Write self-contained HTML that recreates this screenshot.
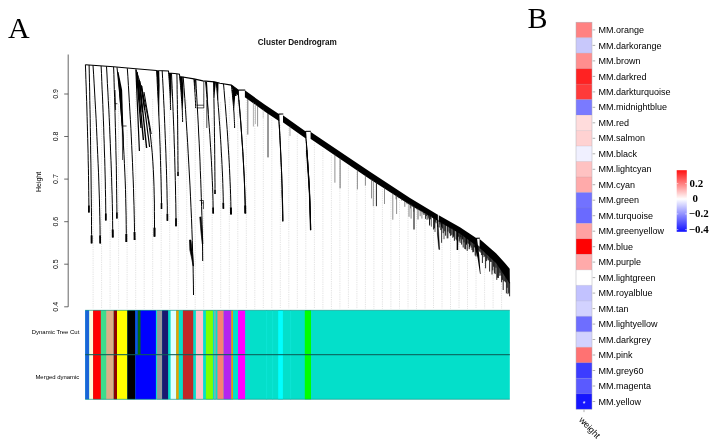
<!DOCTYPE html>
<html lang="en"><head><meta charset="utf-8"><title>Cluster Dendrogram</title>
<style>html,body{margin:0;padding:0;background:#fff}body{width:715px;height:446px;overflow:hidden}</style></head>
<body>
<svg width="715" height="446" viewBox="0 0 715 446" style="display:block">
<rect width="715" height="446" fill="#fff"/>
<text x="7.9" y="38" font-family='"Liberation Serif", "Times New Roman", serif' font-size="30">A</text>
<text x="527.6" y="28.2" font-family='"Liberation Serif", "Times New Roman", serif' font-size="30">B</text>
<text x="297.3" y="45.1" text-anchor="middle" font-family='"Liberation Sans", Arial, Helvetica, sans-serif' font-weight="bold" font-size="8.2" fill="#111">Cluster Dendrogram</text>
<path d="M68.2 54.5V306.8" stroke="#333" stroke-width="0.75" fill="none"/>
<path d="M64.2 94.0H68.2" stroke="#444" stroke-width="0.8"/>
<text transform="translate(58.4 94.0) rotate(-90)" text-anchor="middle" font-family='"Liberation Sans", Arial, Helvetica, sans-serif' font-size="7" fill="#000">0.9</text>
<path d="M64.2 136.5H68.2" stroke="#444" stroke-width="0.8"/>
<text transform="translate(58.4 136.5) rotate(-90)" text-anchor="middle" font-family='"Liberation Sans", Arial, Helvetica, sans-serif' font-size="7" fill="#000">0.8</text>
<path d="M64.2 179.1H68.2" stroke="#444" stroke-width="0.8"/>
<text transform="translate(58.4 179.1) rotate(-90)" text-anchor="middle" font-family='"Liberation Sans", Arial, Helvetica, sans-serif' font-size="7" fill="#000">0.7</text>
<path d="M64.2 221.7H68.2" stroke="#444" stroke-width="0.8"/>
<text transform="translate(58.4 221.7) rotate(-90)" text-anchor="middle" font-family='"Liberation Sans", Arial, Helvetica, sans-serif' font-size="7" fill="#000">0.6</text>
<path d="M64.2 264.2H68.2" stroke="#444" stroke-width="0.8"/>
<text transform="translate(58.4 264.2) rotate(-90)" text-anchor="middle" font-family='"Liberation Sans", Arial, Helvetica, sans-serif' font-size="7" fill="#000">0.5</text>
<path d="M64.2 306.8H68.2" stroke="#444" stroke-width="0.8"/>
<text transform="translate(58.4 306.8) rotate(-90)" text-anchor="middle" font-family='"Liberation Sans", Arial, Helvetica, sans-serif' font-size="7" fill="#000">0.4</text>
<text transform="translate(40.9 182) rotate(-90)" text-anchor="middle" font-family='"Liberation Sans", Arial, Helvetica, sans-serif' font-size="7" fill="#000">Height</text>
<path d="M93.1 96.0V308.6 M101.6 120.0V308.6 M110.1 88.0V308.6 M118.6 104.0V308.6 M127.1 130.0V308.6 M135.7 92.0V308.6 M144.2 110.0V308.6 M152.7 99.0V308.6 M161.2 125.0V308.6 M169.7 90.0V308.6 M178.2 115.0V308.6 M186.7 100.0V308.6 M195.2 108.0V308.6 M203.7 94.0V308.6 M212.2 118.0V308.6 M220.7 102.0V308.6 M229.3 97.0V308.6 M237.8 96.0V308.6 M246.3 100.2V308.6 M254.8 106.4V308.6 M263.3 112.6V308.6 M271.8 118.3V308.6 M280.3 123.4V308.6 M288.8 128.4V308.6 M297.3 134.5V308.6 M305.8 140.3V308.6 M314.4 143.4V308.6 M322.9 149.2V308.6 M331.4 155.0V308.6 M339.9 160.7V308.6 M348.4 166.5V308.6 M356.9 172.3V308.6 M365.4 178.1V308.6 M373.9 183.7V308.6 M382.4 189.2V308.6 M390.9 194.7V308.6 M399.5 200.2V308.6 M408.0 205.7V308.6 M416.5 210.7V308.6 M425.0 215.7V308.6 M433.5 220.6V308.6 M442.0 225.5V308.6 M450.5 230.4V308.6 M459.0 235.2V308.6 M467.5 241.3V308.6 M476.0 247.5V308.6 M484.6 254.3V308.6 M493.1 262.3V308.6 M501.6 273.4V308.6" stroke="#b8b8b8" stroke-width="0.5" stroke-dasharray="0.8 1" fill="none"/>
<rect x="85.2" y="310.3" width="424.6" height="89.0" fill="#04dfca"/>
<rect x="85.2" y="310.3" width="4.00" height="89.0" fill="#1c64d8"/>
<rect x="89.2" y="310.3" width="3.90" height="89.0" fill="#fff8dc"/>
<rect x="93.1" y="310.3" width="7.80" height="89.0" fill="#ff0000"/>
<rect x="100.9" y="310.3" width="5.30" height="89.0" fill="#3ddc8c"/>
<rect x="106.2" y="310.3" width="7.50" height="89.0" fill="#dcae86"/>
<rect x="113.7" y="310.3" width="3.30" height="89.0" fill="#8b0000"/>
<rect x="117.0" y="310.3" width="10.30" height="89.0" fill="#ffff00"/>
<rect x="127.3" y="310.3" width="8.10" height="89.0" fill="#000000"/>
<rect x="135.4" y="310.3" width="20.50" height="89.0" fill="#0000ff"/>
<rect x="157.0" y="310.3" width="5.10" height="89.0" fill="#999999"/>
<rect x="162.1" y="310.3" width="6.00" height="89.0" fill="#191970"/>
<rect x="170.6" y="310.3" width="5.60" height="89.0" fill="#e0ffff"/>
<rect x="176.2" y="310.3" width="2.50" height="89.0" fill="#e8a000"/>
<rect x="182.9" y="310.3" width="10.30" height="89.0" fill="#c02828"/>
<rect x="195.9" y="310.3" width="7.20" height="89.0" fill="#ffc0cb"/>
<rect x="205.9" y="310.3" width="7.00" height="89.0" fill="#80ff00"/>
<rect x="214.3" y="310.3" width="1.30" height="89.0" fill="#a0a8a8"/>
<rect x="217.4" y="310.3" width="6.30" height="89.0" fill="#fa8072"/>
<rect x="223.7" y="310.3" width="7.60" height="89.0" fill="#b424f0"/>
<rect x="231.3" y="310.3" width="1.70" height="89.0" fill="#f09010"/>
<rect x="238.0" y="310.3" width="7.10" height="89.0" fill="#ff00ff"/>
<rect x="278.2" y="310.3" width="4.70" height="89.0" fill="#00ffff"/>
<rect x="304.8" y="310.3" width="6.20" height="89.0" fill="#00ff00"/>
<rect x="135.4" y="310.3" width="2.4" height="44.3" fill="#0a5ad8"/>
<rect x="137.8" y="310.3" width="2.7" height="44.3" fill="#066a14"/>
<rect x="266" y="310.3" width="1.2" height="89.0" fill="#10e8d8" opacity="0.6"/>
<rect x="272" y="310.3" width="1.2" height="89.0" fill="#10e8d8" opacity="0.6"/>
<rect x="290" y="310.3" width="1.2" height="89.0" fill="#10e8d8" opacity="0.6"/>
<path d="M85.2 354.6H509.8" stroke="#0c5e58" stroke-width="1.2" opacity="0.85"/>
<path d="M85.2 310.3H509.8M85.2 399.3H509.8" stroke="#0a8a7c" stroke-width="0.7" opacity="0.8"/>
<text x="79.3" y="334.0" text-anchor="end" font-family='"Liberation Sans", Arial, Helvetica, sans-serif' font-size="5.95" fill="#000">Dynamic Tree Cut</text>
<text x="79.3" y="379.0" text-anchor="end" font-family='"Liberation Sans", Arial, Helvetica, sans-serif' font-size="5.95" fill="#000">Merged dynamic</text>
<path d="M88.9 205.5L88.9 212.5" stroke="#000" stroke-width="1.7" fill="none"/>
<path d="M91.6 235.4L91.6 243.4" stroke="#000" stroke-width="1.9" fill="none"/>
<path d="M100.1 235.4L100.2 243.4" stroke="#000" stroke-width="1.7" fill="none"/>
<path d="M105.8 213.5L105.8 220.5" stroke="#000" stroke-width="1.7" fill="none"/>
<path d="M112.7 229.5L112.8 237.5" stroke="#000" stroke-width="1.9" fill="none"/>
<path d="M116.9 212.6L116.9 218.6" stroke="#000" stroke-width="1.5" fill="none"/>
<path d="M126.3 234.0L126.3 242.0" stroke="#000" stroke-width="1.9" fill="none"/>
<path d="M117.5 72.0 L117.8 75.0 L118.1 78.0 L118.4 81.0 L118.7 84.0 L119.0 87.0 L119.3 90.0 L122.1 90.0 L121.5 87.0 L120.9 84.0 L120.3 81.0 L119.7 78.0 L119.1 75.0 L118.5 72.0Z" fill="#000"/>
<path d="M119.3 90.0 L119.7 94.7 L120.1 99.3 L120.5 104.0 L120.9 108.7 L121.3 113.3 L121.6 118.0 L123.0 118.0 L122.9 113.3 L122.7 108.7 L122.6 104.0 L122.4 99.3 L122.3 94.7 L122.1 90.0Z" fill="#000"/>
<path d="M121.6 118.0 L122.0 123.3 L122.4 128.7 L122.7 134.0 L123.1 139.3 L123.4 144.7 L123.7 150.0 L124.0 150.0 L123.9 144.7 L123.8 139.3 L123.6 134.0 L123.4 128.7 L123.2 123.3 L123.0 118.0Z" fill="#000"/>
<path d="M134.5 232.0L134.6 240.0" stroke="#000" stroke-width="1.9" fill="none"/>
<path d="M154.5 227.7L154.5 236.7" stroke="#000" stroke-width="2.1" fill="none"/>
<path d="M161.5 203.0L161.5 209.0" stroke="#000" stroke-width="1.6" fill="none"/>
<path d="M156.6 71.0 L156.7 73.3 L156.9 75.7 L157.0 78.0 L157.1 80.3 L157.2 82.7 L157.4 85.0 L159.6 85.0 L159.5 82.7 L159.5 80.3 L159.4 78.0 L159.3 75.7 L159.3 73.3 L159.2 71.0Z" fill="#000"/>
<path d="M157.4 85.0 L157.6 90.2 L157.9 95.3 L158.1 100.5 L158.4 105.7 L158.6 110.8 L158.9 116.0 L159.1 116.0 L159.2 110.8 L159.3 105.7 L159.3 100.5 L159.4 95.3 L159.5 90.2 L159.6 85.0Z" fill="#000"/>
<path d="M167.4 213.8L167.4 220.8" stroke="#000" stroke-width="1.7" fill="none"/>
<path d="M168.6 73.0 L168.8 75.5 L169.0 78.0 L169.2 80.5 L169.4 83.0 L169.5 85.5 L169.7 88.0 L171.5 88.0 L171.4 85.5 L171.4 83.0 L171.3 80.5 L171.2 78.0 L171.1 75.5 L171.0 73.0Z" fill="#000"/>
<path d="M169.7 88.0 L169.9 90.7 L170.0 93.3 L170.2 96.0 L170.3 98.7 L170.4 101.3 L170.5 104.0 L170.7 104.0 L170.9 101.3 L171.0 98.7 L171.2 96.0 L171.3 93.3 L171.4 90.7 L171.5 88.0Z" fill="#000"/>
<path d="M176.0 218.3L176.0 226.3" stroke="#000" stroke-width="1.7" fill="none"/>
<path d="M178.0 172.0L178.0 176.0" stroke="#000" stroke-width="1.3" fill="none"/>
<path d="M179.7 77.0 L179.9 79.5 L180.1 82.0 L180.4 84.5 L180.6 87.0 L180.8 89.5 L181.0 92.0 L183.4 92.0 L183.3 89.5 L183.2 87.0 L183.1 84.5 L182.9 82.0 L182.8 79.5 L182.7 77.0Z" fill="#000"/>
<path d="M181.0 92.0 L181.3 95.3 L181.5 98.7 L181.8 102.0 L182.0 105.3 L182.2 108.7 L182.3 112.0 L182.5 112.0 L182.7 108.7 L182.9 105.3 L183.1 102.0 L183.2 98.7 L183.3 95.3 L183.4 92.0Z" fill="#000"/>
<path d="M193.9 79.5 L194.1 81.6 L194.3 83.7 L194.5 85.8 L194.6 87.8 L194.8 89.9 L194.9 92.0 L195.2 92.0 L195.4 89.9 L195.5 87.8 L195.6 85.8 L195.7 83.7 L195.8 81.6 L195.9 79.5Z" fill="#000"/>
<path d="M213.1 207.6L213.2 213.6" stroke="#000" stroke-width="1.7" fill="none"/>
<path d="M205.6 82.0 L205.9 85.0 L206.2 88.0 L206.4 91.0 L206.7 94.0 L206.9 97.0 L207.2 100.0 L208.0 100.0 L207.8 97.0 L207.7 94.0 L207.5 91.0 L207.4 88.0 L207.2 85.0 L207.0 82.0Z" fill="#000"/>
<path d="M207.2 100.0 L207.4 103.0 L207.7 106.0 L207.9 109.0 L208.1 112.0 L208.4 115.0 L208.6 118.0 L208.7 118.0 L208.6 115.0 L208.5 112.0 L208.4 109.0 L208.2 106.0 L208.1 103.0 L208.0 100.0Z" fill="#000"/>
<path d="M215.0 190.0L215.0 194.0" stroke="#000" stroke-width="1.3" fill="none"/>
<path d="M213.6 82.0 L213.7 84.7 L213.7 87.3 L213.8 90.0 L213.8 92.7 L213.9 95.3 L213.9 98.0 L214.2 98.0 L214.5 95.3 L214.8 92.7 L215.1 90.0 L215.4 87.3 L215.7 84.7 L216.0 82.0Z" fill="#000"/>
<path d="M223.3 202.8L223.4 208.8" stroke="#000" stroke-width="1.7" fill="none"/>
<path d="M216.3 82.5 L216.6 85.4 L216.8 88.3 L217.1 91.2 L217.3 94.2 L217.5 97.1 L217.8 100.0 L218.1 100.0 L218.2 97.1 L218.2 94.2 L218.3 91.2 L218.4 88.3 L218.4 85.4 L218.5 82.5Z" fill="#000"/>
<path d="M230.9 207.4L231.0 214.4" stroke="#000" stroke-width="1.9" fill="none"/>
<path d="M231.9 90.0 L232.0 91.0 L232.1 92.0 L232.2 93.0 L232.3 94.0 L232.4 95.0 L232.5 96.0 L236.5 96.0 L236.6 95.0 L236.6 94.0 L236.7 93.0 L236.8 92.0 L236.8 91.0 L236.9 90.0Z" fill="#000"/>
<path d="M232.5 96.0 L232.8 98.5 L233.0 101.0 L233.2 103.5 L233.4 106.0 L233.6 108.5 L233.8 111.0 L234.0 111.0 L234.2 108.5 L234.4 106.0 L234.6 103.5 L234.8 101.0 L235.0 98.5 L235.1 96.0Z" fill="#000"/>
<path d="M245.2 205.4L245.3 213.4" stroke="#000" stroke-width="1.9" fill="none"/>
<path d="M238.1 92.0 L238.2 93.5 L238.4 95.0 L238.5 96.5 L238.6 98.0 L238.8 99.5 L238.9 101.0 L239.1 101.0 L239.1 99.5 L239.2 98.0 L239.2 96.5 L239.2 95.0 L239.3 93.5 L239.3 92.0Z" fill="#000"/>
<path d="M85.4 64.7 L113.6 66.8 L135.8 68.7 L156.6 70.5 L168.4 71.0 L168.8 73.0 L176.9 73.8 L179.4 74.2 L179.8 76.5 L193.9 78.9 L202.9 80.9 L214.5 81.9 L220.0 83.3 L231.4 85.1 L238.0 89.9" stroke="#000" stroke-width="1.1" fill="none"/>
<path d="M85.4 64.7 L85.7 72.1 L85.9 79.5 L86.2 86.9 L86.4 94.3 L86.7 101.7 L86.9 109.0 L87.1 116.4 L87.3 123.8 L87.5 131.2 L87.7 138.6 L87.9 146.0 L88.1 153.4 L88.2 160.8 L88.4 168.2 L88.5 175.6 L88.6 182.9 L88.7 190.3 L88.8 197.7 L88.9 205.1 L88.9 212.5 M89.1 65.0 L89.3 73.9 L89.5 82.8 L89.7 91.8 L89.8 100.7 L90.0 109.6 L90.2 118.5 L90.3 127.4 L90.5 136.4 L90.6 145.3 L90.7 154.2 L90.9 163.1 L91.0 172.0 L91.1 181.0 L91.2 189.9 L91.3 198.8 L91.4 207.7 L91.5 216.6 L91.5 225.6 L91.6 234.5 L91.6 243.4 M93.0 65.3 L93.6 74.2 L94.1 83.1 L94.6 92.0 L95.1 100.9 L95.6 109.8 L96.1 118.7 L96.5 127.6 L96.9 136.5 L97.3 145.4 L97.7 154.4 L98.1 163.3 L98.5 172.2 L98.8 181.1 L99.1 190.0 L99.4 198.9 L99.6 207.8 L99.8 216.7 L100.0 225.6 L100.1 234.5 L100.2 243.4 M101.1 66.0 L101.5 73.7 L101.8 81.5 L102.1 89.2 L102.5 96.9 L102.8 104.6 L103.1 112.3 L103.4 120.1 L103.7 127.8 L103.9 135.5 L104.2 143.2 L104.4 151.0 L104.7 158.7 L104.9 166.4 L105.1 174.1 L105.3 181.9 L105.4 189.6 L105.6 197.3 L105.7 205.1 L105.8 212.8 L105.8 220.5 M106.5 66.4 L107.0 75.0 L107.4 83.5 L107.9 92.1 L108.3 100.6 L108.8 109.2 L109.2 117.7 L109.6 126.3 L109.9 134.8 L110.3 143.4 L110.6 151.9 L111.0 160.5 L111.3 169.1 L111.6 177.6 L111.8 186.2 L112.1 194.7 L112.3 203.3 L112.5 211.8 L112.6 220.4 L112.7 228.9 L112.8 237.5 M113.6 67.0 L113.9 74.6 L114.1 82.2 L114.3 89.7 L114.6 97.3 L114.8 104.9 L115.0 112.5 L115.2 120.1 L115.4 127.6 L115.6 135.2 L115.8 142.8 L115.9 150.4 L116.1 158.0 L116.3 165.5 L116.4 173.1 L116.5 180.7 L116.6 188.3 L116.7 195.9 L116.8 203.4 L116.9 211.0 L116.9 218.6 M117.0 67.3 L117.9 76.0 L118.8 84.8 L119.6 93.5 L120.3 102.2 L121.1 111.0 L121.7 119.7 L122.4 128.4 L123.0 137.2 L123.5 145.9 L124.0 154.6 L124.4 163.4 L124.8 172.1 L125.2 180.9 L125.5 189.6 L125.7 198.3 L125.9 207.1 L126.1 215.8 L126.2 224.5 L126.3 233.3 L126.3 242.0 M127.3 68.2 L127.9 76.8 L128.4 85.4 L128.9 94.0 L129.4 102.6 L129.9 111.2 L130.4 119.7 L130.9 128.3 L131.3 136.9 L131.7 145.5 L132.1 154.1 L132.5 162.7 L132.8 171.3 L133.2 179.9 L133.5 188.5 L133.7 197.1 L134.0 205.6 L134.2 214.2 L134.4 222.8 L134.5 231.4 L134.6 240.0 M135.8 68.9 L138.5 77.3 L140.9 85.7 L143.0 94.1 L144.9 102.5 L146.6 110.8 L148.1 119.2 L149.4 127.6 L150.5 136.0 L151.4 144.4 L152.2 152.8 L152.8 161.2 L153.3 169.6 L153.7 178.0 L154.0 186.4 L154.2 194.8 L154.4 203.1 L154.4 211.5 L154.5 219.9 L154.5 228.3 L154.5 236.7 M156.6 70.6 L157.0 77.5 L157.3 84.4 L157.7 91.4 L158.0 98.3 L158.4 105.2 L158.7 112.1 L159.0 119.0 L159.3 126.0 L159.6 132.9 L159.8 139.8 L160.1 146.7 L160.3 153.6 L160.5 160.6 L160.7 167.5 L160.9 174.4 L161.1 181.3 L161.2 188.2 L161.4 195.2 L161.5 202.1 L161.5 209.0 M162.2 70.8 L162.6 78.3 L163.0 85.8 L163.4 93.3 L163.7 100.8 L164.1 108.3 L164.4 115.8 L164.7 123.3 L165.0 130.8 L165.3 138.3 L165.6 145.8 L165.9 153.3 L166.1 160.8 L166.4 168.3 L166.6 175.8 L166.8 183.3 L167.0 190.8 L167.1 198.3 L167.3 205.8 L167.3 213.3 L167.4 220.8 M168.6 73.0 L168.8 74.8 L168.9 76.7 L169.0 78.5 L169.2 80.4 L169.3 82.2 L169.4 84.1 L169.6 86.0 L169.7 87.8 L169.8 89.7 L169.9 91.5 L170.0 93.3 L170.1 95.2 L170.2 97.0 L170.3 98.9 L170.4 100.8 L170.4 102.6 L170.5 104.5 L170.5 106.3 L170.6 108.2 L170.6 110.0 M171.5 73.2 L171.8 80.9 L172.2 88.5 L172.5 96.2 L172.8 103.8 L173.1 111.5 L173.4 119.1 L173.7 126.8 L174.0 134.4 L174.2 142.1 L174.5 149.8 L174.7 157.4 L174.9 165.1 L175.1 172.7 L175.3 180.4 L175.5 188.0 L175.6 195.7 L175.8 203.3 L175.9 211.0 L176.0 218.6 L176.0 226.3 M176.9 74.0 L177.0 79.1 L177.1 84.2 L177.1 89.3 L177.2 94.4 L177.3 99.5 L177.4 104.6 L177.4 109.7 L177.5 114.8 L177.6 119.9 L177.6 125.0 L177.7 130.1 L177.7 135.2 L177.8 140.3 L177.8 145.4 L177.9 150.5 L177.9 155.6 L177.9 160.7 L178.0 165.8 L178.0 170.9 L178.0 176.0 M179.6 76.5 L179.8 78.8 L180.1 81.0 L180.3 83.3 L180.5 85.6 L180.7 87.9 L180.9 90.2 L181.1 92.4 L181.2 94.7 L181.4 97.0 L181.6 99.2 L181.7 101.5 L181.9 103.8 L182.0 106.1 L182.1 108.3 L182.3 110.6 L182.4 112.9 L182.4 115.2 L182.5 117.5 L182.6 119.7 L182.6 122.0 M183.2 76.8 L184.0 87.7 L184.8 98.6 L185.5 109.5 L186.2 120.4 L186.9 131.3 L187.6 142.3 L188.2 153.2 L188.8 164.1 L189.4 175.0 L190.0 185.9 L190.5 196.8 L191.0 207.7 L191.5 218.6 L191.9 229.5 L192.3 240.4 L192.6 251.4 L193.0 262.3 L193.2 273.2 L193.4 284.1 L193.5 295.0 M193.9 79.2 L194.0 80.6 L194.2 82.1 L194.3 83.5 L194.4 85.0 L194.5 86.4 L194.6 87.8 L194.7 89.3 L194.8 90.7 L194.9 92.2 L195.0 93.6 L195.1 95.0 L195.2 96.5 L195.3 97.9 L195.3 99.4 L195.4 100.8 L195.5 102.2 L195.5 103.7 L195.6 105.1 L195.6 106.6 L195.6 108.0 M195.8 79.6 L196.3 88.7 L196.8 97.7 L197.3 106.8 L197.8 115.9 L198.3 124.9 L198.7 134.0 L199.2 143.1 L199.6 152.2 L200.0 161.2 L200.3 170.3 L200.7 179.4 L201.0 188.4 L201.3 197.5 L201.6 206.6 L201.9 215.7 L202.1 224.7 L202.3 233.8 L202.5 242.9 L202.6 251.9 L202.7 261.0 M205.6 81.5 L206.2 88.1 L206.7 94.7 L207.3 101.3 L207.8 107.9 L208.3 114.5 L208.8 121.1 L209.3 127.7 L209.8 134.3 L210.2 140.9 L210.6 147.6 L211.0 154.2 L211.4 160.8 L211.7 167.4 L212.0 174.0 L212.3 180.6 L212.6 187.2 L212.8 193.8 L213.0 200.4 L213.1 207.0 L213.2 213.6 M213.6 81.5 L213.7 87.1 L213.8 92.8 L213.9 98.4 L214.0 104.0 L214.1 109.6 L214.2 115.2 L214.3 120.9 L214.4 126.5 L214.4 132.1 L214.5 137.8 L214.6 143.4 L214.7 149.0 L214.7 154.6 L214.8 160.2 L214.8 165.9 L214.9 171.5 L214.9 177.1 L215.0 182.8 L215.0 188.4 L215.0 194.0 M216.3 82.4 L216.8 88.7 L217.4 95.0 L217.9 101.4 L218.4 107.7 L218.9 114.0 L219.3 120.3 L219.8 126.6 L220.2 133.0 L220.6 139.3 L221.0 145.6 L221.3 151.9 L221.7 158.2 L222.0 164.6 L222.3 170.9 L222.6 177.2 L222.8 183.5 L223.0 189.8 L223.2 196.2 L223.3 202.5 L223.4 208.8 M223.5 83.9 L224.1 90.4 L224.6 97.0 L225.2 103.5 L225.7 110.0 L226.2 116.5 L226.7 123.1 L227.2 129.6 L227.6 136.1 L228.0 142.6 L228.4 149.2 L228.8 155.7 L229.2 162.2 L229.5 168.7 L229.8 175.2 L230.1 181.8 L230.4 188.3 L230.6 194.8 L230.8 201.4 L230.9 207.9 L231.0 214.4 M231.3 85.0 L231.6 87.2 L231.8 89.3 L232.0 91.5 L232.3 93.6 L232.5 95.8 L232.7 97.9 L232.9 100.0 L233.1 102.2 L233.3 104.3 L233.5 106.5 L233.6 108.7 L233.8 110.8 L234.0 113.0 L234.1 115.1 L234.2 117.2 L234.3 119.4 L234.4 121.5 L234.5 123.7 L234.6 125.8 L234.6 128.0 M237.9 89.9 L238.5 96.1 L239.0 102.2 L239.5 108.4 L240.1 114.6 L240.6 120.8 L241.0 127.0 L241.5 133.1 L241.9 139.3 L242.4 145.5 L242.8 151.7 L243.2 157.8 L243.5 164.0 L243.8 170.2 L244.2 176.3 L244.4 182.5 L244.7 188.7 L244.9 194.9 L245.1 201.1 L245.2 207.2 L245.3 213.4 M278.6 114.0 L278.9 119.4 L279.2 124.7 L279.5 130.1 L279.8 135.5 L280.1 140.8 L280.4 146.2 L280.6 151.6 L280.9 156.9 L281.1 162.3 L281.4 167.7 L281.6 173.0 L281.8 178.4 L282.0 183.7 L282.2 189.1 L282.3 194.5 L282.5 199.8 L282.6 205.2 L282.7 210.6 L282.8 215.9 L282.8 221.3 M305.5 131.5 L305.9 136.4 L306.3 141.4 L306.6 146.3 L307.0 151.2 L307.3 156.2 L307.7 161.1 L308.0 166.0 L308.3 171.0 L308.6 175.9 L308.9 180.8 L309.1 185.8 L309.4 190.7 L309.6 195.7 L309.8 200.6 L310.0 205.5 L310.2 210.5 L310.3 215.4 L310.5 220.3 L310.6 225.3 L310.6 230.2" stroke="#000" stroke-width="1.0" fill="none" stroke-linejoin="round"/>
<path d="M118.6 78L122.2 126" stroke="#000" stroke-width="1.0" fill="none"/>
<path d="M122.3 126L122.6 160" stroke="#000" stroke-width="0.7" fill="none"/>
<path d="M122.3 126L126.6 126" stroke="#000" stroke-width="0.7" fill="none"/>
<path d="M114.8 103.7L117.4 103.7" stroke="#000" stroke-width="0.7" fill="none"/>
<path d="M115.0 90L115.6 110" stroke="#000" stroke-width="0.8" fill="none"/>
<path d="M135.9 70L139.4 151" stroke="#000" stroke-width="1.2" fill="none"/>
<path d="M136.6 73L141.0 128" stroke="#000" stroke-width="1.3" fill="none"/>
<path d="M137.6 77L143.4 140" stroke="#000" stroke-width="1.4" fill="none"/>
<path d="M139.6 81L146.6 148" stroke="#000" stroke-width="1.4" fill="none"/>
<path d="M141.8 86L149.6 147" stroke="#000" stroke-width="1.2" fill="none"/>
<path d="M144.0 92L151.2 134" stroke="#000" stroke-width="1.0" fill="none"/>
<path d="M137.0 72L139.6 100" stroke="#000" stroke-width="1.5" fill="none"/>
<path d="M139.0 80L142.4 112" stroke="#000" stroke-width="1.4" fill="none"/>
<path d="M141.0 85L144.6 110" stroke="#000" stroke-width="1.2" fill="none"/>
<path d="M196.6 105.2H203.8M196.6 107.9H203.8M203.8 81.2V108" stroke="#000" stroke-width="0.7" fill="none"/>
<path d="M199.6 200.5H203.4V209M201 203H203.4" stroke="#000" stroke-width="0.7" fill="none"/>
<path d="M206.8 100V128" stroke="#000" stroke-width="0.7" fill="none"/>
<path d="M189.5 240L190.9 240L192.6 254L193.5 266L193.1 266L191.6 258L189.9 250Z" fill="#000" stroke="#000" stroke-width="0.7"/>
<path d="M199.8 217L200.9 217L202.4 234L202.9 244L202.3 244L201.0 232Z" fill="#000" stroke="#000" stroke-width="0.7"/>
<path d="M282.0 190L282.8 221.3" stroke="#333" stroke-width="0.9"/>
<path d="M306.6 150L309.4 190L310.6 230" stroke="#000" stroke-width="1.3" fill="none"/>
<path d="M231.4 85.1 L238.0 89.9 L245.2 90.6 L265.0 104.8 L278.5 113.8 L283.2 115.4 L305.4 131.2 L310.8 132.0 L345.0 155.0 L370.0 171.8 L410.0 198.0 L437.0 214.2 L460.0 227.2 L476.2 238.0 L479.7 238.9 L496.0 253.2 L504.9 263.0 L509.7 268.8 L509.9 284.0 L505.0 276.5 L496.0 263.0 L481.5 249.5 L460.0 233.8 L437.0 220.6 L410.0 205.0 L370.0 179.2 L345.0 162.2 L310.8 139.0 L305.4 138.2 L283.2 122.4 L278.5 120.8 L265.0 111.8 L245.2 97.4 L238.0 95.5 L232.4 90.0Z" fill="#000"/>
<path d="M238.7 90.4H244.9V100.1H238.7Z" fill="#fff"/>
<path d="M238.2 90.0H245.20000000000002" stroke="#000" stroke-width="1"/>
<path d="M279.2 114.4H283.0V124.8H279.2Z" fill="#fff"/>
<path d="M278.7 114.0H283.3" stroke="#000" stroke-width="1"/>
<path d="M306.1 131.7H310.6V141.5H306.1Z" fill="#fff"/>
<path d="M305.6 131.3H310.90000000000003" stroke="#000" stroke-width="1"/>
<path d="M476.8 238.6H479.6V248.4H476.8Z" fill="#fff"/>
<path d="M476.3 238.2H479.90000000000003" stroke="#000" stroke-width="1"/>
<path d="M437.6 214.8h1.2v6h-1.2z" fill="#fff"/>
<path d="M238.0 89.9 L238.8 98.7 L239.6 107.5 L240.3 116.4 L241.0 125.2 L241.6 134.0 L242.2 142.8 L242.8 151.7 L243.3 160.5 L243.8 169.3 L244.3 178.1 L244.6 186.9 L244.9 195.8 L245.2 204.6 L245.3 213.4 M278.6 114.0 L279.1 121.7 L279.5 129.3 L279.9 137.0 L280.3 144.7 L280.7 152.3 L281.0 160.0 L281.4 167.7 L281.7 175.3 L281.9 183.0 L282.2 190.6 L282.4 198.3 L282.6 206.0 L282.7 213.6 L282.8 221.3 M305.5 131.5 L306.1 138.6 L306.6 145.6 L307.1 152.7 L307.6 159.7 L308.0 166.8 L308.5 173.8 L308.9 180.8 L309.2 187.9 L309.6 194.9 L309.9 202.0 L310.1 209.0 L310.4 216.1 L310.5 223.1 L310.6 230.2" stroke="#000" stroke-width="1.0" fill="none"/>
<path d="M476.0 238.2L477.0 238.2L479.2 255L480.6 274L480.0 274L477.6 258L474.5 246Z" fill="#000"/>
<path d="M437.4 215L438.6 232L439.6 249.4L438.9 249.4L437.4 234Z" fill="#000" stroke="#000" stroke-width="0.5"/>
<path d="M247.8 98.3V134.6" stroke="#333" stroke-width="0.7"/>
<path d="M253.4 102.4V126.5" stroke="#777" stroke-width="0.6"/>
<path d="M255.4 103.8V124" stroke="#888" stroke-width="0.6"/>
<path d="M257.6 105.4V126.5" stroke="#444" stroke-width="0.6"/>
<path d="M263.2 109.5V118" stroke="#999" stroke-width="0.4"/>
<path d="M268 112.8V157.4" stroke="#000" stroke-width="0.8"/>
<path d="M290.0 126.2V136" stroke="#555" stroke-width="0.5"/>
<path d="M334.9 154.3V182.7" stroke="#444" stroke-width="0.6"/>
<path d="M340.1 157.9V188.3" stroke="#333" stroke-width="0.7"/>
<path d="M357.4 169.6V189.4" stroke="#444" stroke-width="0.6"/>
<path d="M365.4 175.1V185.6" stroke="#444" stroke-width="0.6"/>
<path d="M371.5 179.2V198.4" stroke="#444" stroke-width="0.6"/>
<path d="M373.3 180.3V206.2" stroke="#444" stroke-width="0.6"/>
<path d="M376.4 182.3V206.2" stroke="#222" stroke-width="1.0"/>
<path d="M384.5 187.6V204" stroke="#444" stroke-width="0.6"/>
<path d="M392.8 192.9V219.7" stroke="#444" stroke-width="0.6"/>
<path d="M396.6 195.4V214" stroke="#444" stroke-width="0.6"/>
<path d="M409 203.4V216.8" stroke="#555" stroke-width="0.7"/>
<path d="M411.1 204.6V218.6" stroke="#555" stroke-width="0.7"/>
<path d="M414 206.3V229.4" stroke="#111" stroke-width="1.1"/>
<path d="M418 208.6V219.5" stroke="#444" stroke-width="0.8"/>
<path d="M421.9 210.9V218.6" stroke="#555" stroke-width="0.7"/>
<path d="M429.6 215.3V225.8" stroke="#444" stroke-width="0.8"/>
<path d="M431.4 216.4V226.7" stroke="#444" stroke-width="0.8"/>
<path d="M435 218.4V232" stroke="#333" stroke-width="0.8"/>
<path d="M441.6 222.2V242.8" stroke="#222" stroke-width="0.9"/>
<path d="M444 223.6V239.2" stroke="#333" stroke-width="0.8"/>
<path d="M448 225.9V238.3" stroke="#333" stroke-width="0.8"/>
<path d="M452 228.2V234.6" stroke="#444" stroke-width="0.7"/>
<path d="M453.8 229.2V235.6" stroke="#444" stroke-width="0.7"/>
<path d="M457.4 231.3V250" stroke="#000" stroke-width="1.5"/>
<path d="M460.2 232.9V243" stroke="#222" stroke-width="0.8"/>
<path d="M462.8 234.8V239.4" stroke="#333" stroke-width="0.8"/>
<path d="M466.4 237.5V244.8" stroke="#111" stroke-width="0.9"/>
<path d="M469.2 239.5V249.2" stroke="#111" stroke-width="1.0"/>
<path d="M424.0 211.6V215.0 M425.6 212.5V218.9 M426.4 213.0V216.1 M428.0 213.9V219.4 M428.8 214.4V217.7 M429.6 214.8V224.8 M430.4 215.3V219.3 M433.6 217.1V229.5 M434.4 217.6V228.3 M435.2 218.1V221.8 M436.0 218.5V223.3 M437.6 219.4V226.9 M439.2 220.4V227.5 M440.0 220.8V224.4 M440.8 221.3V230.1 M441.6 221.7V226.8 M442.4 222.2V228.5 M443.2 222.7V233.1 M444.8 223.6V231.3 M445.6 224.0V235.7 M447.2 225.0V238.4 M448.0 225.4V231.6 M449.6 226.3V233.3 M450.4 226.8V235.9 M451.2 227.2V235.3 M452.8 228.2V237.8 M453.6 228.6V236.8 M454.4 229.1V240.8 M456.0 230.0V239.4 M456.8 230.5V240.4 M457.6 230.9V245.3 M458.4 231.4V236.8 M459.2 231.8V241.5 M460.0 232.3V239.4 M460.8 232.9V237.3 M461.6 233.5V244.6 M462.4 234.1V239.3 M463.2 234.6V247.5 M464.0 235.2V242.4 M464.8 235.8V248.9 M465.6 236.4V249.3 M466.4 237.0V243.9 M467.2 237.6V250.9 M468.0 238.1V243.0 M468.8 238.7V244.1 M469.6 239.3V247.1 M470.4 239.9V245.6 M471.2 240.5V247.6 M472.0 241.1V250.0 M472.8 241.6V252.3 M473.6 242.2V251.9 M474.4 242.8V247.4 M475.2 243.4V255.5 M476.0 244.0V256.5 M476.8 244.6V251.7 M477.6 245.2V255.3 M478.4 245.7V250.5 M479.2 246.3V251.6 M480.0 246.9V251.6 M480.8 247.5V252.7 M481.6 248.1V255.1 M482.4 248.8V263.0 M483.2 249.6V254.9 M484.0 250.3V257.2 M484.8 251.1V256.3 M485.6 251.8V268.3 M486.4 252.6V261.1 M487.2 253.3V258.5 M488.0 254.1V260.3 M488.8 254.8V260.3 M489.6 255.5V271.6 M490.4 256.3V261.8 M491.2 257.0V262.0 M492.0 257.8V274.5 M492.8 258.5V270.4 M493.6 259.3V266.7 M494.4 260.0V273.2 M495.2 260.8V274.1 M496.0 261.5V267.7 M496.8 262.7V279.9 M497.6 263.9V277.8 M498.4 265.1V278.0 M499.2 266.3V275.8 M500.0 267.5V272.8 M500.8 268.7V275.6 M501.6 269.9V282.2 M502.4 271.1V279.9 M503.2 272.3V290.0 M504.0 273.5V281.4 M504.8 274.7V281.2 M505.6 275.9V282.3 M506.4 277.1V293.4 M507.2 278.4V287.8 M508.0 279.6V294.1 M508.8 280.8V292.9 M509.6 282.0V296.3" stroke="#000" stroke-width="0.85" fill="none"/>
<path d="M396.0 195.0V199.3 M398.4 196.5V198.2 M401.6 198.6V200.6 M404.8 200.6V206.8 M407.0 202.0V204.3 M410.5 204.3V208.4 M412.2 205.2V206.8 M413.7 206.2V211.7 M416.9 208.0V209.6 M420.2 209.9V216.2 M423.1 211.5V213.7 M425.6 213.0V214.6 M426.9 213.7V220.0 M429.7 215.4V218.3" stroke="#333" stroke-width="0.6" fill="none"/>
<rect x="576.0" y="22.20" width="16.0" height="15.53" fill="#ff8282"/>
<path d="M592.6 29.9H595.2" stroke="#777" stroke-width="0.6"/>
<text x="598.6" y="33.0" font-family='"Liberation Sans", Arial, Helvetica, sans-serif' font-size="9" fill="#000">MM.orange</text>
<rect x="576.0" y="37.68" width="16.0" height="15.53" fill="#c8c8fb"/>
<path d="M592.6 45.4H595.2" stroke="#777" stroke-width="0.6"/>
<text x="598.6" y="48.5" font-family='"Liberation Sans", Arial, Helvetica, sans-serif' font-size="9" fill="#000">MM.darkorange</text>
<rect x="576.0" y="53.16" width="16.0" height="15.53" fill="#ff8e8e"/>
<path d="M592.6 60.9H595.2" stroke="#777" stroke-width="0.6"/>
<text x="598.6" y="64.0" font-family='"Liberation Sans", Arial, Helvetica, sans-serif' font-size="9" fill="#000">MM.brown</text>
<rect x="576.0" y="68.64" width="16.0" height="15.53" fill="#ff2222"/>
<path d="M592.6 76.4H595.2" stroke="#777" stroke-width="0.6"/>
<text x="598.6" y="79.5" font-family='"Liberation Sans", Arial, Helvetica, sans-serif' font-size="9" fill="#000">MM.darkred</text>
<rect x="576.0" y="84.12" width="16.0" height="15.53" fill="#ff3a3a"/>
<path d="M592.6 91.9H595.2" stroke="#777" stroke-width="0.6"/>
<text x="598.6" y="95.0" font-family='"Liberation Sans", Arial, Helvetica, sans-serif' font-size="9" fill="#000">MM.darkturquoise</text>
<rect x="576.0" y="99.60" width="16.0" height="15.53" fill="#7a7aff"/>
<path d="M592.6 107.3H595.2" stroke="#777" stroke-width="0.6"/>
<text x="598.6" y="110.4" font-family='"Liberation Sans", Arial, Helvetica, sans-serif' font-size="9" fill="#000">MM.midnightblue</text>
<rect x="576.0" y="115.08" width="16.0" height="15.53" fill="#ffdcdc"/>
<path d="M592.6 122.8H595.2" stroke="#777" stroke-width="0.6"/>
<text x="598.6" y="125.9" font-family='"Liberation Sans", Arial, Helvetica, sans-serif' font-size="9" fill="#000">MM.red</text>
<rect x="576.0" y="130.56" width="16.0" height="15.53" fill="#ffd2d2"/>
<path d="M592.6 138.3H595.2" stroke="#777" stroke-width="0.6"/>
<text x="598.6" y="141.4" font-family='"Liberation Sans", Arial, Helvetica, sans-serif' font-size="9" fill="#000">MM.salmon</text>
<rect x="576.0" y="146.04" width="16.0" height="15.53" fill="#f0f0ff"/>
<path d="M592.6 153.8H595.2" stroke="#777" stroke-width="0.6"/>
<text x="598.6" y="156.9" font-family='"Liberation Sans", Arial, Helvetica, sans-serif' font-size="9" fill="#000">MM.black</text>
<rect x="576.0" y="161.52" width="16.0" height="15.53" fill="#ffc2c2"/>
<path d="M592.6 169.3H595.2" stroke="#777" stroke-width="0.6"/>
<text x="598.6" y="172.4" font-family='"Liberation Sans", Arial, Helvetica, sans-serif' font-size="9" fill="#000">MM.lightcyan</text>
<rect x="576.0" y="177.00" width="16.0" height="15.53" fill="#ffaaaa"/>
<path d="M592.6 184.7H595.2" stroke="#777" stroke-width="0.6"/>
<text x="598.6" y="187.8" font-family='"Liberation Sans", Arial, Helvetica, sans-serif' font-size="9" fill="#000">MM.cyan</text>
<rect x="576.0" y="192.48" width="16.0" height="15.53" fill="#7272ff"/>
<path d="M592.6 200.2H595.2" stroke="#777" stroke-width="0.6"/>
<text x="598.6" y="203.3" font-family='"Liberation Sans", Arial, Helvetica, sans-serif' font-size="9" fill="#000">MM.green</text>
<rect x="576.0" y="207.96" width="16.0" height="15.53" fill="#6a6aff"/>
<path d="M592.6 215.7H595.2" stroke="#777" stroke-width="0.6"/>
<text x="598.6" y="218.8" font-family='"Liberation Sans", Arial, Helvetica, sans-serif' font-size="9" fill="#000">MM.turquoise</text>
<rect x="576.0" y="223.44" width="16.0" height="15.53" fill="#ffa2a2"/>
<path d="M592.6 231.2H595.2" stroke="#777" stroke-width="0.6"/>
<text x="598.6" y="234.3" font-family='"Liberation Sans", Arial, Helvetica, sans-serif' font-size="9" fill="#000">MM.greenyellow</text>
<rect x="576.0" y="238.92" width="16.0" height="15.53" fill="#ff0202"/>
<path d="M592.6 246.7H595.2" stroke="#777" stroke-width="0.6"/>
<text x="598.6" y="249.8" font-family='"Liberation Sans", Arial, Helvetica, sans-serif' font-size="9" fill="#000">MM.blue</text>
<rect x="576.0" y="254.40" width="16.0" height="15.53" fill="#ffaaaa"/>
<path d="M592.6 262.1H595.2" stroke="#777" stroke-width="0.6"/>
<text x="598.6" y="265.2" font-family='"Liberation Sans", Arial, Helvetica, sans-serif' font-size="9" fill="#000">MM.purple</text>
<rect x="576.0" y="269.88" width="16.0" height="15.53" fill="#ffffff"/>
<path d="M592.6 277.6H595.2" stroke="#777" stroke-width="0.6"/>
<text x="598.6" y="280.7" font-family='"Liberation Sans", Arial, Helvetica, sans-serif' font-size="9" fill="#000">MM.lightgreen</text>
<rect x="576.0" y="285.36" width="16.0" height="15.53" fill="#c2c2ff"/>
<path d="M592.6 293.1H595.2" stroke="#777" stroke-width="0.6"/>
<text x="598.6" y="296.2" font-family='"Liberation Sans", Arial, Helvetica, sans-serif' font-size="9" fill="#000">MM.royalblue</text>
<rect x="576.0" y="300.84" width="16.0" height="15.53" fill="#d2d2ff"/>
<path d="M592.6 308.6H595.2" stroke="#777" stroke-width="0.6"/>
<text x="598.6" y="311.7" font-family='"Liberation Sans", Arial, Helvetica, sans-serif' font-size="9" fill="#000">MM.tan</text>
<rect x="576.0" y="316.32" width="16.0" height="15.53" fill="#6e6eff"/>
<path d="M592.6 324.1H595.2" stroke="#777" stroke-width="0.6"/>
<text x="598.6" y="327.2" font-family='"Liberation Sans", Arial, Helvetica, sans-serif' font-size="9" fill="#000">MM.lightyellow</text>
<rect x="576.0" y="331.80" width="16.0" height="15.53" fill="#d2d2ff"/>
<path d="M592.6 339.5H595.2" stroke="#777" stroke-width="0.6"/>
<text x="598.6" y="342.6" font-family='"Liberation Sans", Arial, Helvetica, sans-serif' font-size="9" fill="#000">MM.darkgrey</text>
<rect x="576.0" y="347.28" width="16.0" height="15.53" fill="#ff7272"/>
<path d="M592.6 355.0H595.2" stroke="#777" stroke-width="0.6"/>
<text x="598.6" y="358.1" font-family='"Liberation Sans", Arial, Helvetica, sans-serif' font-size="9" fill="#000">MM.pink</text>
<rect x="576.0" y="362.76" width="16.0" height="15.53" fill="#3c3cff"/>
<path d="M592.6 370.5H595.2" stroke="#777" stroke-width="0.6"/>
<text x="598.6" y="373.6" font-family='"Liberation Sans", Arial, Helvetica, sans-serif' font-size="9" fill="#000">MM.grey60</text>
<rect x="576.0" y="378.24" width="16.0" height="15.53" fill="#5a5aff"/>
<path d="M592.6 386.0H595.2" stroke="#777" stroke-width="0.6"/>
<text x="598.6" y="389.1" font-family='"Liberation Sans", Arial, Helvetica, sans-serif' font-size="9" fill="#000">MM.magenta</text>
<rect x="576.0" y="393.72" width="16.0" height="15.53" fill="#1616ff"/>
<path d="M592.6 401.5H595.2" stroke="#777" stroke-width="0.6"/>
<text x="598.6" y="404.6" font-family='"Liberation Sans", Arial, Helvetica, sans-serif' font-size="9" fill="#000">MM.yellow</text>
<path d="M576.0 37.68H592.0 M576.0 53.16H592.0 M576.0 68.64H592.0 M576.0 84.12H592.0 M576.0 99.60H592.0 M576.0 115.08H592.0 M576.0 130.56H592.0 M576.0 146.04H592.0 M576.0 161.52H592.0 M576.0 177.00H592.0 M576.0 192.48H592.0 M576.0 207.96H592.0 M576.0 223.44H592.0 M576.0 238.92H592.0 M576.0 254.40H592.0 M576.0 269.88H592.0 M576.0 285.36H592.0 M576.0 300.84H592.0 M576.0 316.32H592.0 M576.0 331.80H592.0 M576.0 347.28H592.0 M576.0 362.76H592.0 M576.0 378.24H592.0 M576.0 393.72H592.0" stroke="#8a8a9a" stroke-width="0.35" opacity="0.5"/>
<rect x="576.0" y="22.2" width="16.0" height="387.00" fill="none" stroke="#b0b0b8" stroke-width="0.5"/>
<text x="584" y="406.1" text-anchor="middle" font-family='"Liberation Sans", Arial, Helvetica, sans-serif' font-size="7" fill="#fff">*</text>
<path d="M584 409.7v2.4" stroke="#777" stroke-width="0.6"/>
<text transform="translate(578.4 420.4) rotate(46)" font-family='"Liberation Sans", Arial, Helvetica, sans-serif' font-size="9" fill="#000">weight</text>
<defs><linearGradient id="lg" x1="0" y1="0" x2="0" y2="1"><stop offset="0" stop-color="#ff1010"/><stop offset="0.468" stop-color="#ffffff"/><stop offset="1" stop-color="#1010ff"/></linearGradient></defs>
<rect x="676.7" y="170.2" width="10.1" height="61.6" fill="url(#lg)"/>
<path d="M676.7 183.6h1.6M685.2 183.6h1.6" stroke="#fff" stroke-width="0.6"/>
<text x="689.6" y="187.1" font-family='"Liberation Serif", "Times New Roman", serif' font-weight="bold" font-size="10.9" fill="#000">0.2</text>
<path d="M676.7 198.9h1.6M685.2 198.9h1.6" stroke="#fff" stroke-width="0.6"/>
<text x="692.6" y="202.4" font-family='"Liberation Serif", "Times New Roman", serif' font-weight="bold" font-size="10.9" fill="#000">0</text>
<path d="M676.7 213.9h1.6M685.2 213.9h1.6" stroke="#fff" stroke-width="0.6"/>
<text x="688.8" y="217.4" font-family='"Liberation Serif", "Times New Roman", serif' font-weight="bold" font-size="10.9" fill="#000">−0.2</text>
<path d="M676.7 229.6h1.6M685.2 229.6h1.6" stroke="#fff" stroke-width="0.6"/>
<text x="688.8" y="233.1" font-family='"Liberation Serif", "Times New Roman", serif' font-weight="bold" font-size="10.9" fill="#000">−0.4</text>
</svg>
</body></html>
